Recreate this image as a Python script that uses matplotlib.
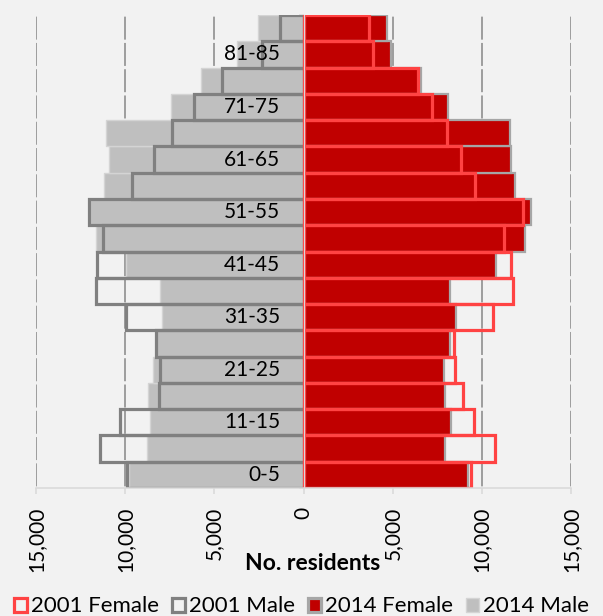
import matplotlib
matplotlib.use("Agg")
import matplotlib.pyplot as plt
import numpy as np
from matplotlib.patches import Patch

# population by age band, bottom (youngest) to top
ages = ['0-5', '6-10', '11-15', '16-20', '21-25', '26-30', '31-35', '36-40', '41-45',
        '46-50', '51-55', '56-60', '61-65', '66-70', '71-75', '76-80', '81-85', '86+']

male_2001 = [9880, 11410, 10290, 8090, 8050, 8290, 9970, 11650, 11560,
             11230, 12050, 9600, 8370, 7390, 6120, 4590, 2310, 1320]
male_2014 = [9800, 8780, 8610, 8700, 8460, 8250, 7950, 8050, 9960,
             11650, 11980, 11190, 10910, 11080, 7430, 5750, 3710, 2540]
female_2001 = [9390, 10760, 9560, 8930, 8510, 8440, 10610, 11770, 11620,
               11250, 12330, 9620, 8830, 8050, 7230, 6400, 3920, 3660]
female_2014 = [9250, 7920, 8260, 7920, 7880, 8220, 8540, 8220, 10780,
               12410, 12740, 11850, 11660, 11580, 8110, 6610, 4890, 4690]

xticks = [-15000, -10000, -5000, 0, 5000, 10000, 15000]
xticklabels = ['15,000', '10,000', '5,000', '0', '5,000', '10,000', '15,000']

plt.rcParams['font.family'] = ['Lato', 'DejaVu Sans']
plt.rcParams['lines.scale_dashes'] = False

bg = '#F2F2F2'
fig = plt.figure(figsize=(6.03, 6.16), dpi=100, facecolor=bg)
ax = fig.add_axes([36 / 603, 1 - 488 / 616, 535 / 603, 473 / 616])
ax.set_facecolor(bg)

y = np.arange(len(ages))
m14 = -np.array(male_2014)
m01 = -np.array(male_2001)

# gridlines, dashed so they break at each row boundary
row_px = 473 / len(ages)
on = (row_px - 3.3) * 0.72
off = 3.3 * 0.72
for xv in [-15000, -10000, -5000, 5000, 10000, 15000]:
    ln, = ax.plot([xv, xv], [len(ages) - 0.5, -0.5], color='#868686', lw=1.1,
                  zorder=0.5, solid_capstyle='butt')
    ln.set_linestyle((on + 1.65 * 0.72, (on, off)))

ax.barh(y, m14, height=1.0, color='#BFBFBF', edgecolor='#D4D4D4', lw=1.0, zorder=1)
ax.barh(y, female_2014, height=1.0, color='#C00000', edgecolor='#A6A6A6', lw=1.6, zorder=1)
ax.barh(y, m01, height=1.0, facecolor='none', edgecolor='#808080', lw=2.3, zorder=2)
ax.barh(y, female_2001, height=1.0, facecolor='none', edgecolor='#FF4343', lw=2.3, zorder=2)

for i, lab in enumerate(ages):
    if i % 2 == 0:
        ax.text(-1320, i, lab, ha='right', va='center', fontsize=15, color='#000000', zorder=5)

ax.set_xlim(-15000, 15000)
ax.set_ylim(-0.5, len(ages) - 0.5)

ax.spines['top'].set_visible(False)
ax.spines['right'].set_visible(False)
ax.spines['left'].set_position(('data', 0))
ax.spines['left'].set_color('#D9D9D9')
ax.spines['left'].set_linewidth(0.8)
ax.spines['bottom'].set_color('#D9D9D9')
ax.spines['bottom'].set_linewidth(1.1)

ax.set_yticks([])
ax.set_yticks(np.arange(-0.5, len(ages), 1.0), minor=True)
ax.tick_params(axis='y', which='minor', length=3.6, color='#D9D9D9', width=1.1, direction='out')

ax.set_xticks(xticks)
ax.set_xticklabels(xticklabels, rotation=90, fontsize=15)
ax.tick_params(axis='x', length=4.3, color='#D9D9D9', width=1.1, pad=9)

fig.text(313 / 603, 1 - 564 / 616, 'No. residents', ha='center', va='center',
         fontsize=16.5, fontweight='bold')

handles = [
    Patch(facecolor='none', edgecolor='#FF4343', lw=2.3, label='2001 Female'),
    Patch(facecolor='none', edgecolor='#808080', lw=2.3, label='2001 Male'),
    Patch(facecolor='#C00000', edgecolor='#A6A6A6', lw=2.3, label='2014 Female'),
    Patch(facecolor='#BFBFBF', edgecolor='#D4D4D4', lw=1.0, label='2014 Male'),
]
fig.legend(handles=handles, loc='center', bbox_to_anchor=(0.5, 1 - 606.5 / 616), ncol=4,
           frameon=False, fontsize=16, handlelength=0.6, handleheight=0.6,
           handletextpad=0.2, columnspacing=0.55, borderpad=0, borderaxespad=0)

fig.savefig('out.png', dpi=100, facecolor=bg)
